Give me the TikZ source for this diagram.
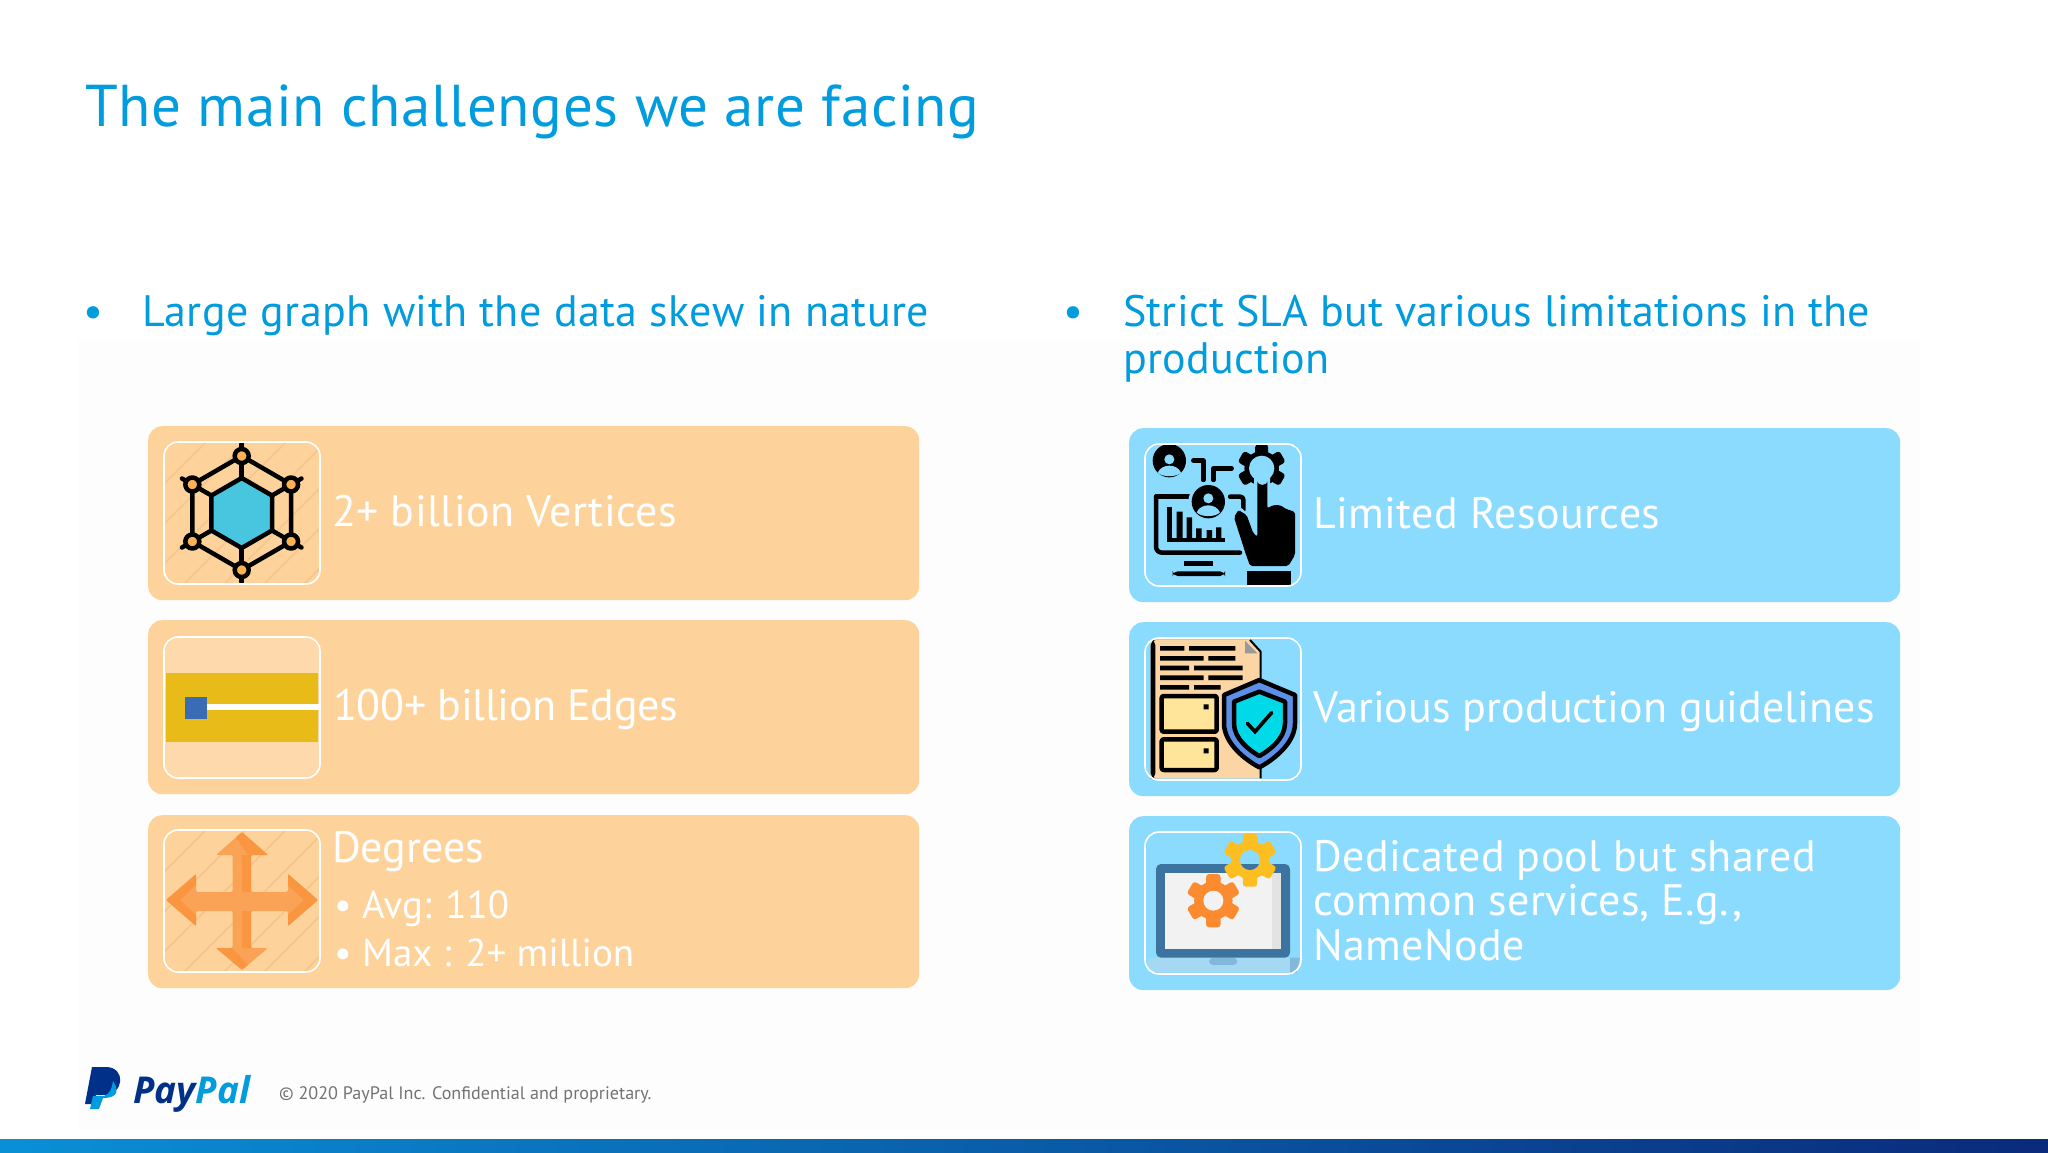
\documentclass[tikz,border=0pt]{standalone}
\usepackage{fontspec}
\setmainfont{PT Sans}
\newfontfamily\logofont{Open Sans}
\definecolor{ppblue}{HTML}{009CDE}
\definecolor{orangebox}{HTML}{FDD39B}
\definecolor{bluebox}{HTML}{8BDBFF}
\definecolor{hatch}{HTML}{F6C68C}
\definecolor{hexblue}{HTML}{48C6E0}
\definecolor{nodeorange}{HTML}{FBB154}
\definecolor{bandyellow}{HTML}{E8BB19}
\definecolor{iconlight}{HTML}{FDD9AB}
\definecolor{squareblue}{HTML}{3A6CB5}
\definecolor{arroworange}{HTML}{FA9C4D}
\definecolor{arrowdark}{HTML}{FB8B2E}
\definecolor{docfill}{HTML}{FBD5A3}
\definecolor{docgrey}{HTML}{999999}
\definecolor{drawer}{HTML}{FFE59A}
\definecolor{shieldblue}{HTML}{5B8FE8}
\definecolor{shieldcyan}{HTML}{00D9E8}
\definecolor{lapbase}{HTML}{A5D8F3}
\definecolor{lapshade}{HTML}{82B9DA}
\definecolor{lapframe}{HTML}{3D749F}
\definecolor{screenlight}{HTML}{F2F2F2}
\definecolor{screenshade}{HTML}{E3E3E3}
\definecolor{gearorange}{HTML}{FB8B2E}
\definecolor{gearyellow}{HTML}{FDBE21}
\definecolor{palnavy}{HTML}{003087}
\definecolor{barleft}{HTML}{0A8FD6}
\definecolor{barright}{HTML}{0A2A7A}
\tikzset{x=1pt,y=-1pt,
  tracked/.style={execute at begin node={\addfontfeature{LetterSpace=#1}}},
  titletext/.style={anchor=base west,inner sep=0,text=ppblue,font=\fontsize{59}{60}\selectfont},
  headtext/.style={anchor=base west,inner sep=0,text=ppblue,font=\fontsize{44}{47}\selectfont,align=left},
  orangecard/.style={fill=orangebox,rounded corners=14pt},
  bluecard/.style={fill=bluebox,rounded corners=14pt},
  iconframe/.style={draw=white,line width=1.6pt,rounded corners=14pt},
  cardtext/.style={anchor=base west,inner sep=0,text=white,font=\fontsize{44}{44.5}\selectfont,align=left},
  blk/.style={draw=black,line width=4.5pt,line cap=round,line join=round},
}
\newcommand{\hatchbox}[4]{%
  \begin{scope}
    \clip[rounded corners=14pt] (#1,#2) rectangle (#3,#4);
    \foreach \k in {-140,-100,...,200}
      \draw[hatch,line width=1.6pt] (#1+\k,#4) -- (#1+\k+142,#2);
  \end{scope}}
\newcommand{\gearmark}[6]{% x y r colour holecolour holeradius
  \fill[#4] (#1,#2) circle ({0.72*#3});
  \foreach \a in {30,90,...,330}
    \fill[#4,rounded corners=3pt,rotate around={\a:(#1,#2)}]
      (#1+0.55*#3,#2-0.27*#3) rectangle (#1+#3,#2+0.27*#3);
  \fill[#5] (#1,#2) circle (#6);}
\begin{document}
\begin{tikzpicture}
\useasboundingbox (0,0) rectangle (2048,1152);
\fill[white] (0,0) rectangle (2048,1152);
\fill[black!0.6] (78,340) rectangle (1920,1130);

% titles
\node[titletext,tracked=1.1] (title) at (85,126) {The main challenges we are facing};
\node[headtext] (bulletL) at (83,326) {•};
\node[headtext,tracked=1] (headL) at (142,326) {Large graph with the data skew in nature};
\node[headtext] (bulletR) at (1063,326) {•};
\node[headtext,tracked=0.5] (headR) at (1123,373) {Strict SLA but various limitations in the\\production};

% cards left
\node[orangecard,minimum width=771pt,minimum height=174pt,anchor=north west,inner sep=0] (cardA) at (148,426) {};
\node[orangecard,minimum width=771pt,minimum height=174pt,anchor=north west,inner sep=0] (cardB) at (148,620) {};
\node[orangecard,minimum width=771pt,minimum height=173pt,anchor=north west,inner sep=0] (cardC) at (148,815) {};
% cards right
\node[bluecard,minimum width=771pt,minimum height=174pt,anchor=north west,inner sep=0] (cardD) at (1129,428) {};
\node[bluecard,minimum width=771pt,minimum height=174pt,anchor=north west,inner sep=0] (cardE) at (1129,622) {};
\node[bluecard,minimum width=771pt,minimum height=174pt,anchor=north west,inner sep=0] (cardF) at (1129,816) {};

% ---- icon A: hexagon network
\hatchbox{164}{442}{320}{584}
\begin{scope}[shift={(241.7,513)}]
  \foreach \a in {30,90,...,330}{
    \draw[blk] (\a:35) -- (\a:69);
  }
  \draw[blk] (30:57) -- (90:57) -- (150:57) -- (210:57) -- (270:57) -- (330:57) -- cycle;
  \filldraw[blk,fill=hexblue] (30:35) -- (90:35) -- (150:35) -- (210:35) -- (270:35) -- (330:35) -- cycle;
  \foreach \a in {30,90,...,330}{
    \filldraw[blk,fill=nodeorange] (\a:57) circle (7);
  }
\end{scope}
\draw[iconframe] (164,442) rectangle (320,584);

% ---- icon B: band
\fill[iconlight,rounded corners=14pt] (165,638) rectangle (319,700);
\fill[iconlight,rounded corners=14pt] (165,720) rectangle (319,777);
\fill[bandyellow] (166,673) rectangle (318,742);
\fill[white] (207,704) rectangle (319,709.5);
\fill[squareblue] (185,697) rectangle (207,719);
\draw[iconframe] (164,637) rectangle (320,778);

% ---- icon C: four arrows
\hatchbox{164}{830}{320}{972}
\fill[arroworange,opacity=.88,rounded corners=2pt] (232.7,855) -- (216,855) -- (242,832) -- (268,855) -- (251,855) -- (251,892) -- (288,892) -- (288,874) -- (318,900) -- (288,926) -- (288,911) -- (251,911) -- (251,948) -- (268,948) -- (242,970) -- (216,948) -- (232.7,948) -- (232.7,911) -- (196,911) -- (196,926) -- (166,900) -- (196,874) -- (196,892) -- (232.7,892) -- cycle;
\fill[arrowdark,opacity=.55] (242,855) rectangle (251,892) (242,911) rectangle (251,948);
\fill[arrowdark,opacity=.55] (232,948) -- (216,948) -- (242,970) -- (248,965) -- cycle;
\fill[arrowdark,opacity=.55] (248,855) -- (268,855) -- (242,832) -- (236,837) -- cycle;
\fill[arrowdark,opacity=.55] (196,874) -- (166,900) -- (196,926) -- (196,915) -- (180,900) -- (196,885) -- cycle;
\fill[arrowdark,opacity=.55] (288,874) -- (318,900) -- (288,926) -- (288,915) -- (304,900) -- (288,885) -- cycle;
\draw[iconframe] (164,830) rectangle (320,972);

% ---- icon D: monitor, people, gear, hand (zoom coordinates)
\begin{scope}[shift={(1130,430)},scale=1/3]
  \draw[blk,rounded corners=6pt] (78,200) -- (78,368) -- (330,368);
  \draw[blk,rounded corners=6pt] (78,200) -- (180,200);
  \draw[blk,rounded corners=3pt] (300,200) -- (340,200) -- (340,240);
  \draw[black,line width=4.5pt] (118,232) -- (118,330) -- (285,330);
  \fill[black] (140,245) rectangle (158,325) (170,262) rectangle (186,325) (198,295) rectangle (215,325) (230,300) rectangle (246,325) (258,292) rectangle (274,325);
  \fill[black] (163,394) rectangle (250,408);
  \fill[black,rounded corners=5pt] (128,424) rectangle (285,438);
  \draw[blk] (190,92) -- (220,92) -- (220,150);
  \draw[blk] (305,115) -- (250,115) -- (250,150);
  \fill[black] (118,92) circle (50);
  \fill[bluebox] (118,88) circle (15);
  \fill[bluebox] (83,128) .. controls (95,100) and (141,100) .. (153,128) .. controls (140,142) and (96,142) .. (83,128);
  \fill[bluebox] (235,215) circle (60);
  \fill[black] (235,215) circle (50);
  \fill[bluebox] (235,205) circle (15);
  \fill[bluebox] (200,247) .. controls (212,219) and (258,219) .. (270,247) .. controls (257,262) and (213,262) .. (200,247);
  \gearmark{395}{115}{72}{black}{bluebox}{38}
  \fill[bluebox] (385,150) rectangle (405,200);
  \fill[bluebox,rounded corners=3pt] (372,130) -- (372,300) -- (300,250) -- (325,225) -- (372,270) -- (420,270) -- (420,130) -- cycle;
  \fill[black,rounded corners=2pt] (382,320) -- (382,150) arc (180:0:15) -- (412,235) -- (430,225) -- (450,225) -- (470,238) -- (495,245) -- (495,375) -- (475,408) -- (360,408) -- (345,365) -- (312,262) -- (325,240) -- (350,255) -- (370,310) -- cycle;
  \fill[black] (352,423) rectangle (483,464);
\end{scope}
\draw[iconframe] (1145,444) rectangle (1301,586);

% ---- icon E: document and shield
\begin{scope}[shift={(1130,430)},scale=1/3]
  \fill[docfill] (62,630) -- (360,630) -- (392,665) -- (392,1045) -- (62,1045) -- cycle;
  \fill[black,rounded corners=5pt] (62,630) rectangle (76,1045);
  \fill[docgrey] (345,632) -- (345,670) -- (382,670) -- cycle;
  \draw[black,line width=2pt] (360,630) -- (392,665) -- (392,1045);
  \fill[black] (90,648) rectangle (163,662) (177,648) rectangle (316,662)
               (90,678) rectangle (221,692) (235,678) rectangle (316,692)
               (90,707) rectangle (177,721) (192,707) rectangle (338,721)
               (90,736) rectangle (221,750) (235,736) rectangle (338,750)
               (90,765) rectangle (177,779) (192,765) rectangle (272,779);
  \filldraw[blk,fill=drawer,rounded corners=2pt] (95,798) rectangle (260,905);
  \filldraw[blk,fill=drawer,rounded corners=2pt] (95,928) rectangle (260,1020);
  \fill[black] (221,823) rectangle (236,838) (221,955) rectangle (236,970);
  \filldraw[blk,fill=shieldblue] (388,750) -- (495,795) -- (495,880) .. controls (495,940) and (430,990) .. (388,1012) .. controls (346,990) and (282,940) .. (282,880) -- (282,795) -- cycle;
  \filldraw[blk,fill=shieldcyan] (388,785) -- (465,815) -- (465,880) .. controls (465,925) and (420,960) .. (388,978) .. controls (356,960) and (312,925) .. (312,880) -- (312,815) -- cycle;
  \draw[black,line width=3.6pt,line cap=round] (352,880) -- (375,905) -- (425,848);
\end{scope}
\draw[iconframe] (1145,638) rectangle (1301,780);

% ---- icon F: laptop and gears
\begin{scope}[shift={(1130,820)},scale=1/3]
  \fill[lapbase,rounded corners=4pt] (52,413) rectangle (510,458);
  \fill[lapshade] (480,413) -- (510,413) -- (500,458) -- (480,458) -- cycle;
  \fill[lapshade,rounded corners=4pt] (237,413) rectangle (322,435);
  \fill[lapframe,rounded corners=5pt] (78,132) rectangle (480,413);
  \fill[screenlight] (105,160) rectangle (452,388);
  \fill[screenshade] (425,160) rectangle (452,388);
  \gearmark{250}{242}{80}{gearorange}{screenlight}{30}
  \gearmark{360}{120}{80}{gearyellow}{bluebox}{30}
  \begin{scope}
    \clip (360,120) circle (30);
    \fill[lapframe] (330,132) rectangle (390,160);
  \end{scope}
\end{scope}
\draw[iconframe] (1145,832) rectangle (1301,974);

% card texts
\node[cardtext,tracked=1] (tA) at (332,526.5) {2+ billion Vertices};
\node[cardtext,tracked=-0.8] (tB) at (333,720.5) {100+ billion Edges};
\node[cardtext,font=\fontsize{44}{44}\selectfont] (tC) at (332,862) {Degrees};
\node[cardtext,font=\fontsize{39}{48}\selectfont] (tC2) at (334,966) {• Avg: 110\\• Max : 2+ million};
\node[cardtext,tracked=0.9] (tD) at (1313,528.5) {Limited Resources};
\node[cardtext,tracked=0.2] (tE) at (1313,722.5) {Various production guidelines};
\node[cardtext,tracked=0.8] (tF) at (1313,960) {Dedicated pool but shared\\common services, E.g.,\\NameNode};

% footer
\fill[palnavy] (92,1067) -- (106,1067) .. controls (126,1067) and (125,1095) .. (103,1095) -- (96,1095) -- (92,1104) -- (85,1104) -- cycle;
\fill[ppblue] (113,1081) .. controls (122,1095) and (112,1098) .. (103,1098) -- (99,1109) -- (90,1109) -- (93,1096) -- (104,1096) .. controls (110,1094) and (112,1088) .. (113,1081) -- cycle;
\node[anchor=base west,inner sep=0,font=\logofont\bfseries\itshape\fontsize{37}{37}\selectfont] (logo) at (133,1103) {\textcolor{palnavy}{Pay}\textcolor{ppblue}{Pal}};
\node[anchor=base west,inner sep=0,text=black!55,font=\fontsize{18.1}{20}\selectfont] (copy) at (279,1099) {© 2020 PayPal Inc. Confidential and proprietary.};
\shade[left color=barleft,right color=barright] (0,1139) rectangle (2048,1152);
\end{tikzpicture}
\end{document}
